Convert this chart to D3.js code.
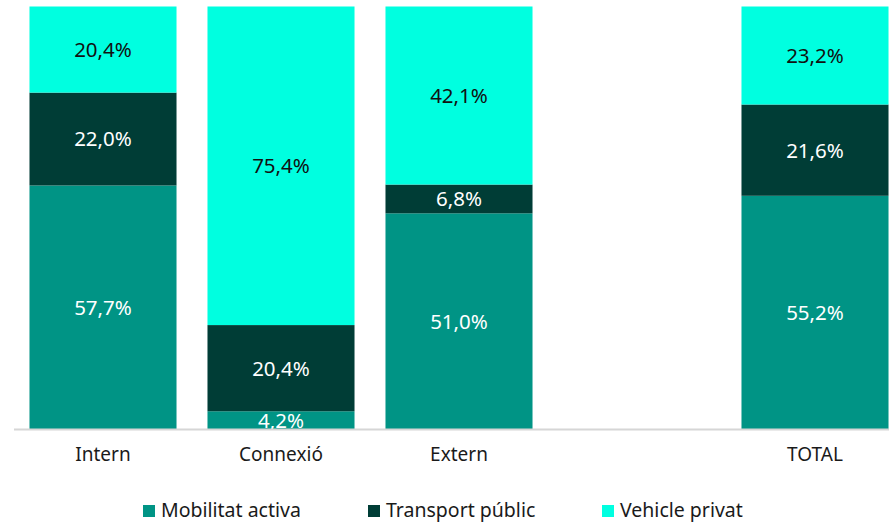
<!DOCTYPE html>
<html><head><meta charset="utf-8">
<script src="https://cdn.jsdelivr.net/npm/d3@7"></script>
<style>
html,body{margin:0;padding:0;background:#fff;}
svg{display:block;font-family:"Noto Sans",sans-serif;}
</style></head>
<body><svg id="chart" width="889" height="523"></svg>
<script>
const categories = ["Intern", "Connexió", "Extern", "", "TOTAL"];
const seriesNames = ["Mobilitat activa", "Transport públic", "Vehicle privat"];
const mobilitatActiva = [57.7, 4.2, 51.0, null, 55.2];
const transportPublic = [22.0, 20.4, 6.8, null, 21.6];
const vehiclePrivat = [20.4, 75.4, 42.1, null, 23.2];
const colors = ["#009485", "#003D36", "#00FFE0"];
const labelColors = ["#ffffff", "#ffffff", "#111111"];

const svg = d3.select("#chart");

const rows = categories.map((c, i) => ({
  cat: c || "_blank",
  label: c,
  s0: mobilitatActiva[i], s1: transportPublic[i], s2: vehiclePrivat[i]
}));

const x = d3.scaleBand()
  .domain(rows.map(d => d.cat))
  .range([14, 904])
  .paddingInner(0.174)
  .paddingOuter(0.087);

const y = d3.scaleLinear().domain([0, 1]).range([429, 6.5]);

const keys = ["s0", "s1", "s2"];
const stack = d3.stack().keys(keys)
  .value((d, k) => d[k] == null ? 0 : d[k])
  .offset(d3.stackOffsetExpand);
const layers = stack(rows.filter(d => d.s0 != null));

const g = svg.append("g");
layers.forEach((layer, li) => {
  g.selectAll(null).data(layer).enter().append("rect")
    .attr("x", d => x(d.data.cat))
    .attr("width", x.bandwidth())
    .attr("y", d => y(d[1]))
    .attr("height", d => y(d[0]) - y(d[1]))
    .attr("fill", colors[li]);
});

// baseline axis
const axis = d3.axisBottom(x).tickSize(0).tickPadding(18)
  .tickFormat(c => c === "_blank" ? "" : c);
const ax = svg.append("g").attr("transform", "translate(0,429.5)").call(axis);
ax.select(".domain").attr("d", "M14,0H889").attr("stroke", "#d6d6d6").attr("stroke-width", 2);
ax.selectAll("text").attr("font-size", 19).attr("fill", "#1a1a1a")
  .attr("font-family", "Noto Sans, sans-serif");

// value labels
const fmt = v => d3.format(".1f")(v).replace(".", ",") + "%";
layers.forEach((layer, li) => {
  g.selectAll(null).data(layer).enter().append("text")
    .attr("x", d => x(d.data.cat) + x.bandwidth() / 2)
    .attr("y", d => (y(d[0]) + y(d[1])) / 2)
    .attr("dy", "0.36em")
    .attr("text-anchor", "middle")
    .attr("font-size", 20.5)
    .attr("fill", labelColors[li])
    .text(d => fmt(d.data[keys[li]]));
});

// legend
const legendX = [143, 368, 602];
const lg = svg.append("g");
seriesNames.forEach((n, i) => {
  lg.append("rect").attr("x", legendX[i]).attr("y", 505).attr("width", 12).attr("height", 12).attr("fill", colors[i]);
  lg.append("text").attr("x", legendX[i] + 18).attr("y", 517)
    .attr("font-size", 19.5).attr("fill", "#1a1a1a").text(n);
});
</script></body></html>
